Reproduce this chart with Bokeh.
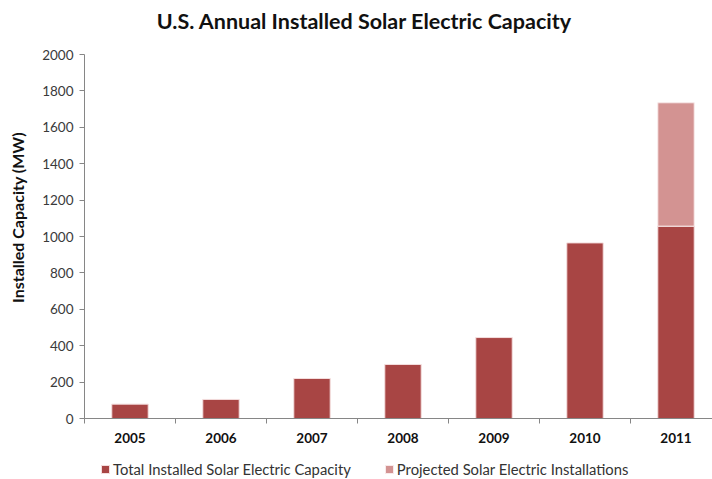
import math
from bokeh.plotting import figure
from bokeh.models import ColumnDataSource, FixedTicker, Legend, LegendItem, Range1d, Label
from bokeh.embed import file_html
from bokeh.resources import INLINE

# ---- data ----
years = ["2005", "2006", "2007", "2008", "2009", "2010", "2011"]
installed = [79, 105, 220, 297, 445, 965, 1057]
projected_years = ["2011"]
projected = [678]
y_ticks = [0, 200, 400, 600, 800, 1000, 1200, 1400, 1600, 1800, 2000]
title_text = "U.S. Annual Installed Solar Electric Capacity"
y_title = "Installed Capacity (MW)"

FONT = "Lato"
DARK = "#A84544"
LIGHT = "#D39392"

idx = list(range(len(years)))
src_inst = ColumnDataSource(dict(x=idx, top=installed, year=years))
p_idx = [years.index(y) for y in projected_years]
p_bottom = [installed[i] for i in p_idx]
p_top = [b + v for b, v in zip(p_bottom, projected)]
src_proj = ColumnDataSource(dict(x=p_idx, bottom=p_bottom, top=p_top))

p = figure(width=712, height=479, output_backend="svg", toolbar_location=None,
           x_range=Range1d(-1.423, 6.401), y_range=Range1d(-335, 2297),
           min_border_left=0, min_border_right=0, min_border_top=0, min_border_bottom=0)
p.title.text = ""
p.title.visible = False
p.outline_line_color = None
p.xgrid.grid_line_color = None
p.ygrid.grid_line_color = None

r1 = p.vbar(x="x", top="top", bottom=0, width=0.4, source=src_inst,
            fill_color=DARK, line_color="#f4dede", line_width=1)
r2 = p.vbar(x="x", top="top", bottom="bottom", width=0.4, source=src_proj,
            fill_color=LIGHT, line_color="#f8eaea", line_width=1)

# chart title
p.add_layout(Label(x=364, y=459, x_units="screen", y_units="screen", text=title_text,
                   text_align="center", text_baseline="middle",
                   text_font=FONT, text_font_size="21.5px", text_font_style="bold",
                   text_color="#111111"))

# y axis title
p.add_layout(Label(x=17, y=262, x_units="screen", y_units="screen", text=y_title,
                   angle=math.pi / 2, text_align="center", text_baseline="middle",
                   text_font=FONT, text_font_size="16px", text_font_style="bold",
                   text_color="#111111"))

# x axis, drawn at y = 0 inside the frame
xa = p.xaxis[0]
xa.fixed_location = 0
xa.bounds = (-0.5, 6.401)
xa.ticker = FixedTicker(ticks=idx, minor_ticks=[i + 0.5 for i in range(-1, len(years))])
xa.major_label_overrides = {i: y for i, y in enumerate(years)}
xa.major_tick_out = 0
xa.major_tick_in = 0
xa.minor_tick_out = 5
xa.minor_tick_in = 0
xa.minor_tick_line_color = "#868686"
xa.axis_line_color = "#868686"
xa.major_label_text_font = FONT
xa.major_label_text_font_size = "13.5px"
xa.major_label_text_font_style = "bold"
xa.major_label_text_color = "#111111"
xa.major_label_standoff = 9

# y axis, drawn at the left edge of the first category
ya = p.yaxis[0]
ya.fixed_location = -0.5
ya.ticker = FixedTicker(ticks=y_ticks)
ya.bounds = (0, 2000)
ya.minor_tick_line_color = None
ya.major_tick_out = 5
ya.major_tick_in = 0
ya.major_tick_line_color = "#868686"
ya.axis_line_color = "#868686"
ya.major_label_text_font = FONT
ya.major_label_text_font_size = "13.5px"
ya.major_label_text_color = "#3a3a3a"
ya.major_label_standoff = 6

legend = Legend(items=[
    LegendItem(label="Total Installed Solar Electric Capacity", renderers=[r1]),
    LegendItem(label="Projected Solar Electric Installations", renderers=[r2]),
], orientation="horizontal", location=(100, 1))
legend.border_line_color = None
legend.background_fill_alpha = 0
legend.padding = 0
legend.margin = 0
legend.spacing = 33
legend.glyph_width = 10
legend.glyph_height = 10
legend.label_height = 16
legend.label_standoff = 3
legend.label_text_font = FONT
legend.label_text_font_size = "14.8px"
legend.label_text_color = "#333333"
p.add_layout(legend, "center")

open("out.html", "w").write(file_html(p, INLINE))
